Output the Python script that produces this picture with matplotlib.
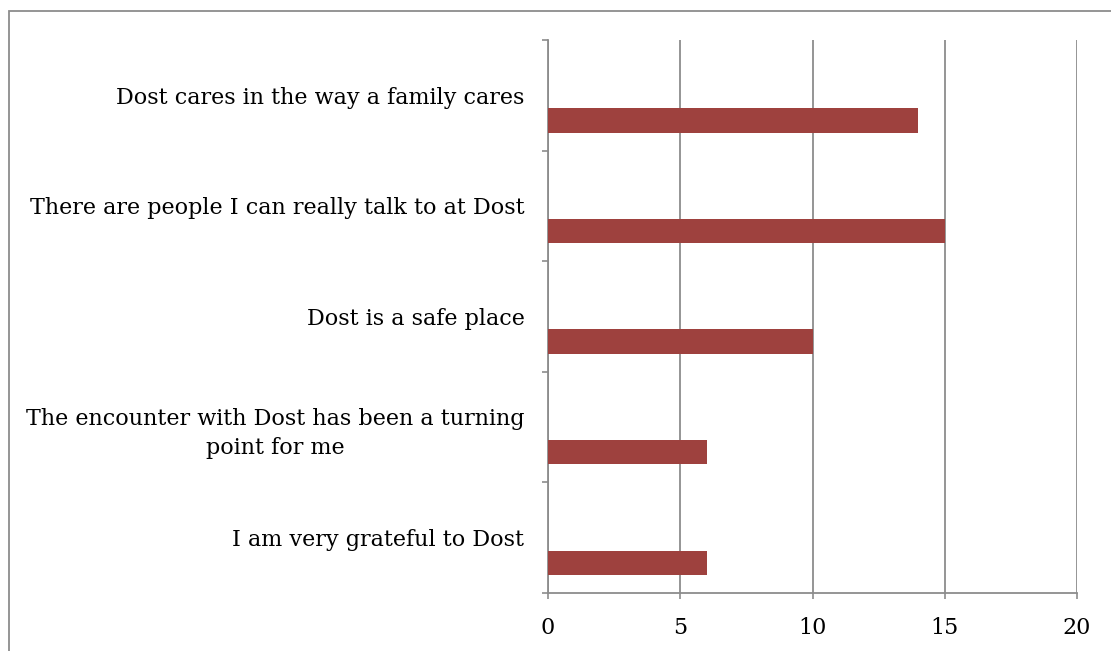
import matplotlib
matplotlib.use("Agg")
import matplotlib.pyplot as plt
from matplotlib.patches import Rectangle

# statements, top to bottom as in the chart
statements = [
    "Dost cares in the way a family cares",
    "There are people I can really talk to at Dost",
    "Dost is a safe place",
    "The encounter with Dost has been a turning\npoint for me",
    "I am very grateful to Dost",
]
counts = [14, 15, 10, 6, 6]
x_ticks = [0, 5, 10, 15, 20]

bar_color = "#9E413E"
grey = "#8C8C8C"

plt.rcParams["font.family"] = ["DejaVu Serif"]

W, H = 1111, 651
fig = plt.figure(figsize=(W / 100, H / 100), dpi=100)
ax = fig.add_axes([548 / W, (H - 593) / H, (1077 - 548) / W, (593 - 40) / H])

# bottom-up positions so the first statement sits on top
n = len(statements)
pos = list(range(n - 1, -1, -1))
ax.barh([p - 0.227 for p in pos], counts, height=0.22, color=bar_color, zorder=3)

ax.set_xlim(0, 20)
ax.set_ylim(-0.5, n - 0.5)
ax.set_xticks(x_ticks)
ax.set_xticklabels([str(t) for t in x_ticks], fontsize=16)
ax.tick_params(axis="x", direction="out", length=4, width=1.2, color=grey, pad=13)

ax.set_yticks(pos)
ax.set_yticklabels(statements, fontsize=16)
for lab in ax.get_yticklabels():
    lab.set_multialignment("center")
    lab.set_linespacing(1.45)
ax.tick_params(axis="y", which="major", length=0, pad=17)
ax.set_yticks([p - 0.5 for p in range(n + 1)], minor=True)
ax.tick_params(axis="y", which="minor", direction="out", length=4, width=1.2, color=grey)

ax.grid(axis="x", color=grey, linewidth=1.3, zorder=0)
ax.set_axisbelow(True)
for side in ["top", "right"]:
    ax.spines[side].set_visible(False)
for side in ["left", "bottom"]:
    ax.spines[side].set_color(grey)
    ax.spines[side].set_linewidth(1.3)

# outer frame of the chart area
fig.patches.append(Rectangle((9 / W, -0.1), 1.2, (H - 11) / H + 0.1,
                             transform=fig.transFigure, fill=False,
                             edgecolor=grey, linewidth=1.3, clip_on=False))

fig.savefig("out.png", dpi=100)
